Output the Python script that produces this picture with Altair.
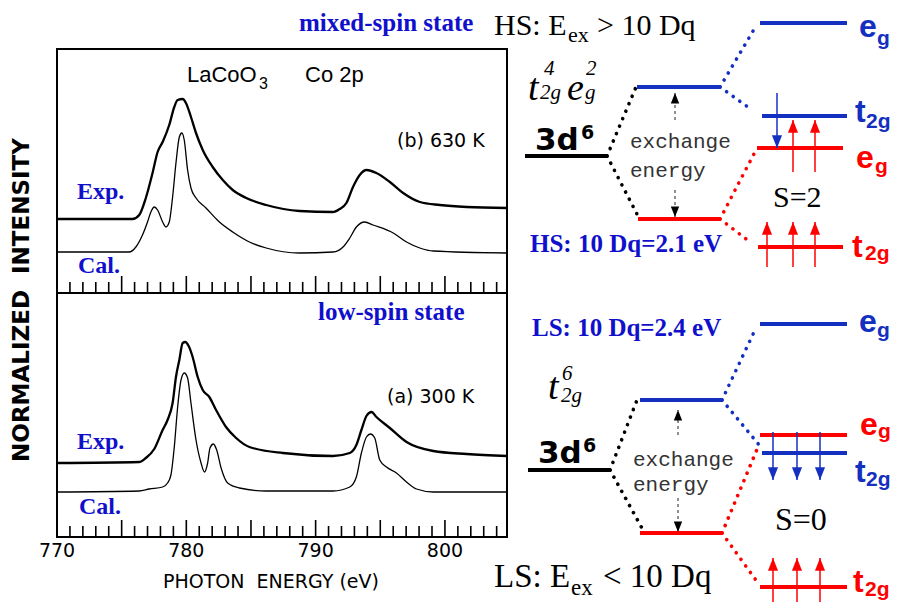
import altair as alt
import pandas as pd

# ---------------- colours ----------------
BLUE_TXT = "#1010cc"
BLUE = "#1430c0"
RED = "#ff0000"
BLACK = "#000000"

# ---------------- Co 2p XAS spectra of LaCoO3 (photon energy, eV / normalized intensity, arb. units) -------------
# (b) 630 K
b_exp_E = [770.0, 775.84, 776.36, 776.87, 777.39, 777.78, 778.17, 778.68, 779.07, 779.33,
           779.72, 779.97, 780.36, 780.75, 781.27, 782.04, 782.82, 783.59, 784.63, 786.18,
           788.76, 791.34, 791.86, 792.38, 792.89, 793.41, 793.93, 794.70, 795.74, 796.77,
           798.06, 799.61, 801.68, 804.8]
b_exp_I = [318, 318, 322, 339, 364, 385, 395, 412, 430, 437,
           438, 434, 420, 404, 387, 370, 357, 347, 339, 332,
           326, 325, 328, 334, 350, 362, 367, 364, 355, 344,
           335, 332, 330, 329]
b_cal_E = [770.0, 775.58, 776.10, 776.61, 777.00, 777.26, 777.52, 777.78, 778.17, 778.42,
           778.68, 778.94, 779.20, 779.46, 779.66, 779.84, 780.10, 780.36, 780.75, 781.52,
           782.56, 783.59, 784.88, 786.18, 788.76, 791.34, 792.12, 792.64, 793.15, 793.80,
           794.44, 796.00, 797.03, 798.06, 799.10, 804.8]
b_cal_I = [285, 285, 290, 302, 315, 325, 330, 327, 315, 310,
           315, 340, 374, 400, 404, 397, 367, 349, 339, 329,
           315, 305, 295, 289, 284, 285, 290, 299, 310, 315,
           312, 304, 295, 289, 286, 284]
# (a) 300 K
a_exp_E = [770.0, 776.36, 776.87, 777.52, 778.17, 778.55, 778.94, 779.20, 779.46, 779.72,
           779.92, 780.18, 780.49, 780.88, 781.27, 781.78, 782.30, 783.07, 783.85, 784.88,
           787.47, 791.34, 792.64, 793.15, 793.54, 793.93, 794.32, 794.70, 795.74, 797.03,
           799.10, 801.68, 804.8]
a_exp_I = [74, 75, 79, 88, 107, 117, 134, 160, 177, 194,
           195, 191, 180, 160, 147, 140, 127, 110, 99, 90,
           84, 81, 84, 92, 107, 121, 125, 120, 109, 95,
           86, 83, 81]
a_cal_E = [770.0, 776.36, 777.13, 778.17, 778.55, 778.81, 779.07, 779.33, 779.59, 779.84,
           780.10, 780.36, 780.75, 781.14, 781.40, 781.65, 781.83, 782.09, 782.35, 782.69,
           783.20, 784.11, 786.18, 791.34, 792.64, 793.15, 793.54, 793.93, 794.24, 794.57,
           794.96, 795.48, 796.25, 797.03, 797.80, 799.10, 804.8]
a_cal_I = [45, 46, 48, 50, 54, 62, 90, 130, 157, 164,
           159, 134, 97, 74, 65, 74, 89, 93, 87, 69,
           54, 49, 46, 46, 50, 60, 84, 100, 103, 99,
           77, 70, 64, 55, 48, 45, 45]

# axis
E_MIN, E_MAX = 770, 804.8
I_TOP = 488
panel_base = [0, 244]          # baseline intensity of lower (a) and upper (b) panel
tick_values = list(range(771, 805))
axis_labels = [770, 780, 790, 800]

# ---------------- energy-level diagram (diagram units) ----------------
# levels: x start, x end, height, colour
lev_x1 = [525, 637, 638, 760, 762, 757, 758,   528, 640, 640, 760, 760, 762, 760]
lev_x2 = [607, 720, 720, 847, 847, 843, 843,   610, 722, 722, 847, 847, 847, 847]
lev_y = [156, 87, 219, 23, 116, 148, 247,      470, 400, 533, 324, 435, 453, 587]
lev_c = [BLACK, BLUE, RED, BLUE, BLUE, RED, RED, BLACK, BLUE, RED, BLUE, RED, BLUE, RED]
# dotted correlation lines
dot_x1 = [607, 607, 720, 720, 720, 720,   610, 610, 722, 722, 722, 722]
dot_y1 = [156, 156, 87, 87, 219, 219,     470, 470, 400, 400, 533, 533]
dot_x2 = [636, 639, 756, 752, 756, 750,   637, 643, 755, 760, 758, 758]
dot_y2 = [87, 218, 26, 110, 150, 242,     400, 530, 330, 446, 447, 583]
dot_c = [BLACK, BLACK, BLUE, BLUE, RED, RED, BLACK, BLACK, BLUE, BLUE, RED, RED]
# spin arrows: x, tail, tip, colour
spin_x = [777, 793, 815, 767, 793, 815,   773, 797, 820, 773, 797, 820]
spin_tail = [93, 172, 172, 267, 267, 267,  432, 432, 432, 607, 607, 607]
spin_tip = [148, 120, 120, 222, 222, 222,  480, 480, 480, 558, 558, 558]
spin_c = [BLUE, RED, RED, RED, RED, RED,   BLUE, BLUE, BLUE, RED, RED, RED]
# exchange-energy arrows
ex_x = [675, 675, 678, 678]
ex_tail = [120, 190, 435, 498]
ex_tip = [93, 217, 410, 532]

# ---------------- scales ----------------
XS = alt.Scale(domain=[E_MIN, E_MAX], range=[49, 499], nice=False, zero=False)
YS = alt.Scale(domain=[0, I_TOP], range=[529, 41], nice=False, zero=False)
XD = alt.Scale(domain=[0, 900], range=[-8, 892], nice=False, zero=False)
YD = alt.Scale(domain=[0, 610], range=[-8, 602], nice=False, zero=False)


def sx(f="E"):
    return alt.X(f"{f}:Q", scale=XS, axis=None)


def sy(f="I"):
    return alt.Y(f"{f}:Q", scale=YS, axis=None)


def dxe(f="dx"):
    return alt.X(f"{f}:Q", scale=XD, axis=None)


def dye(f="dy"):
    return alt.Y(f"{f}:Q", scale=YD, axis=None)


# ---------------- spectra layers ----------------
frame = alt.Chart(pd.DataFrame({"E": [E_MIN], "E2": [E_MAX], "I": [0], "I2": [I_TOP]})).mark_rect(
    fillOpacity=0, stroke="black", strokeWidth=2).encode(x=sx(), x2="E2:Q", y=sy(), y2="I2:Q")
divider = alt.Chart(pd.DataFrame({"E": [E_MIN], "E2": [E_MAX], "I": [panel_base[1]]})).mark_rule(
    color="black", strokeWidth=2).encode(x=sx(), x2="E2:Q", y=sy())
tick_rows = []
for base in panel_base:
    for v in tick_values:
        tick_rows.append({"E": v, "I": base, "I2": base + (17 if v % 5 == 0 else 11)})
ticks = alt.Chart(pd.DataFrame(tick_rows)).mark_rule(color="black", strokeWidth=1.6).encode(
    x=sx(), y=sy(), y2="I2:Q")


def curve(E, I, w):
    return alt.Chart(pd.DataFrame({"E": E, "I": I})).mark_line(
        interpolate="monotone", color="black", strokeWidth=w).encode(x=sx(), y=sy())


tick_labels = alt.Chart(pd.DataFrame({"E": axis_labels, "t": [str(v) for v in axis_labels]})).mark_text(
    font="DejaVu Sans", fontSize=19, align="center", baseline="alphabetic", color="black").encode(
    x=sx(), y=alt.value(549), text="t:N")

spectra = alt.layer(frame, divider, ticks,
                    curve(b_exp_E, b_exp_I, 2.3), curve(b_cal_E, b_cal_I, 1.3),
                    curve(a_exp_E, a_exp_I, 2.3), curve(a_cal_E, a_cal_I, 1.3),
                    tick_labels)

# ---------------- diagram layers ----------------
levels = alt.Chart(pd.DataFrame({"dx": lev_x1, "dx2": lev_x2, "dy": lev_y, "c": lev_c})).mark_rule(
    strokeWidth=4).encode(x=dxe(), x2="dx2:Q", y=dye(), color=alt.Color("c:N", scale=None))
dots = alt.Chart(pd.DataFrame({"dx": dot_x1, "dy": dot_y1, "dx2": dot_x2, "dy2": dot_y2, "c": dot_c})).mark_rule(
    strokeWidth=3.6, strokeDash=[0.1, 8], strokeCap="round").encode(
    x=dxe(), y=dye(), x2="dx2:Q", y2="dy2:Q", color=alt.Color("c:N", scale=None))
spin_df = pd.DataFrame({"dx": spin_x, "dy": spin_tail, "dy2": spin_tip, "c": spin_c})
spin_shafts = alt.Chart(spin_df).mark_rule(strokeWidth=1.5).encode(
    x=dxe(), y=dye(), y2="dy2:Q", color=alt.Color("c:N", scale=None))
UP = "M0,0L-0.8,2L0.8,2Z"
DOWN = "M0,0L-0.8,-2L0.8,-2Z"
spin_up = alt.Chart(spin_df[spin_df.dy2 < spin_df.dy]).mark_point(
    shape=UP, filled=True, size=160, opacity=1, strokeWidth=0).encode(
    x=dxe(), y=dye("dy2"), color=alt.Color("c:N", scale=None))
spin_down = alt.Chart(spin_df[spin_df.dy2 > spin_df.dy]).mark_point(
    shape=DOWN, filled=True, size=160, opacity=1, strokeWidth=0).encode(
    x=dxe(), y=dye("dy2"), color=alt.Color("c:N", scale=None))
ex_df = pd.DataFrame({"dx": ex_x, "dy": ex_tail, "dy2": ex_tip})
ex_shafts = alt.Chart(ex_df).mark_rule(strokeWidth=1, strokeDash=[3, 3], color="#222").encode(
    x=dxe(), y=dye(), y2="dy2:Q")
ex_up = alt.Chart(ex_df[ex_df.dy2 < ex_df.dy]).mark_point(
    shape=UP, filled=True, size=110, opacity=1, strokeWidth=0, color="black").encode(x=dxe(), y=dye("dy2"))
ex_down = alt.Chart(ex_df[ex_df.dy2 > ex_df.dy]).mark_point(
    shape=DOWN, filled=True, size=110, opacity=1, strokeWidth=0, color="black").encode(x=dxe(), y=dye("dy2"))


def texts(items, font, size, weight="normal", style="normal", align="left", baseline="alphabetic", angle=0):
    df = pd.DataFrame(items, columns=["t", "dx", "dy", "c"])
    return alt.Chart(df).mark_text(font=font, fontSize=size, fontWeight=weight, fontStyle=style,
                                   align=align, baseline=baseline, angle=angle).encode(
        x=dxe(), y=dye(), text="t:N", color=alt.Color("c:N", scale=None))


SERIF, SANS, DEJA, MONO = "Liberation Serif", "Liberation Sans", "DejaVu Sans", "Liberation Mono"
text_layers = [
    texts([("mixed-spin state", 299, 31, BLUE_TXT), ("low-spin state", 318, 320, BLUE_TXT),
           ("HS: 10 Dq=2.1 eV", 530, 252, BLUE_TXT), ("LS: 10 Dq=2.4 eV", 532, 336, BLUE_TXT)],
          SERIF, 25, weight="bold"),
    texts([("Exp.", 77, 199, BLUE_TXT), ("Cal.", 78, 273, BLUE_TXT),
           ("Exp.", 77, 449, BLUE_TXT), ("Cal.", 79, 514, BLUE_TXT)], SERIF, 24, weight="bold"),
    texts([("LaCoO", 187, 82, BLACK), ("Co 2p", 305, 82, BLACK)], SANS, 22),
    texts([("3", 259, 89, BLACK)], SANS, 16),
    texts([("(b) 630 K", 397, 147, BLACK), ("(a) 300 K", 387, 403, BLACK)], DEJA, 19),
    texts([("PHOTON\u00a0 ENERGY (eV)", 271, 588, BLACK)], DEJA, 19, align="center"),
    texts([("NORMALIZED\u00a0 INTENSITY", 22, 300, BLACK)], DEJA, 23, weight="bold", align="center",
          baseline="middle", angle=270),
    texts([("exchange", 630, 148, "#333333"), ("energy", 630, 177, "#333333"),
           ("exchange", 633, 466, "#333333"), ("energy", 633, 491, "#333333")], MONO, 21),
    texts([("3d", 535, 150, BLACK), ("3d", 538, 463, BLACK)], DEJA, 31, weight="bold"),
    texts([("6", 581, 139, BLACK), ("6", 583, 452, BLACK)], DEJA, 19, weight="bold"),
    texts([("e", 859, 37, BLUE), ("t", 855, 122, BLUE), ("e", 856, 168, RED), ("t", 852, 257, RED),
           ("e", 859, 332, BLUE), ("e", 860, 435, RED), ("t", 855, 482, BLUE), ("t", 853, 592, RED)],
          SANS, 32, weight="bold"),
    texts([("g", 877, 45, BLUE), ("2g", 866, 128, BLUE), ("g", 875, 173, RED), ("2g", 865, 260, RED),
           ("g", 877, 337, BLUE), ("g", 878, 438, RED), ("2g", 866, 486, BLUE), ("2g", 865, 596, RED)],
          SANS, 21, weight="bold"),
    texts([("t", 528, 100, BLACK), ("e", 567, 100, BLACK), ("t", 548, 399, BLACK)], SERIF, 38, style="italic"),
    texts([("2g", 540, 99, BLACK), ("4", 544, 75, BLACK), ("g", 585, 99, BLACK), ("2", 586, 75, BLACK),
           ("6", 562, 380, BLACK), ("2g", 561, 402, BLACK)], SERIF, 21, style="italic"),
    texts([("S=2", 773, 207, BLACK)], SERIF, 30),
    texts([("S=0", 775, 530, BLACK)], SERIF, 32),
    texts([("HS: E", 494, 35, BLACK), ("> 10 Dq", 597, 35, BLACK)], SERIF, 30),
    texts([("LS: E", 494, 587, BLACK), ("< 10 Dq", 603, 587, BLACK)], SERIF, 33),
    texts([("ex", 568, 42, BLACK)], SERIF, 22),
    texts([("ex", 571, 595, BLACK)], SERIF, 23),
]

diagram = alt.layer(levels, dots, spin_shafts, spin_up, spin_down, ex_shafts, ex_up, ex_down, *text_layers)

chart = alt.layer(spectra, diagram).resolve_scale(x="independent", y="independent").properties(
    width=884, height=594, padding=0, autosize=alt.AutoSizeParams(type="none"),
    background="white").configure_view(strokeWidth=0)

chart.save("out.html", embed_options={"renderer": "svg", "actions": False})
